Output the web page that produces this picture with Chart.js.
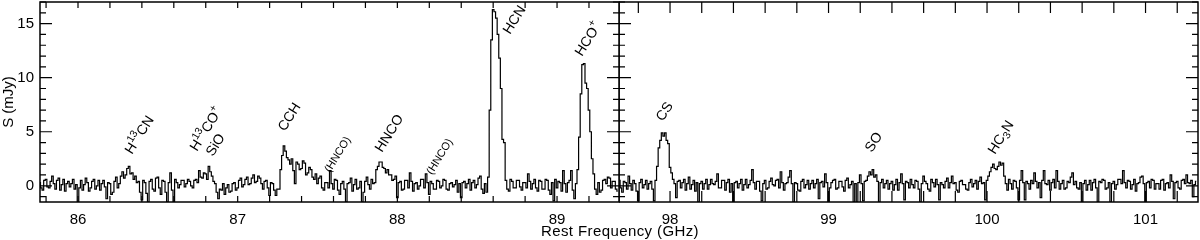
<!DOCTYPE html>
<html>
<head>
<meta charset="utf-8">
<script src="https://cdn.jsdelivr.net/npm/chart.js@4.4.1/dist/chart.umd.min.js"></script>
<style>
  body { margin: 0; background: #fff; }
  #wrap { position: relative; width: 1200px; height: 240px; }
  #left { position: absolute; left: 0; top: 0; }
  #right { position: absolute; left: 619px; top: 0; }
  #xtitle { position: absolute; left: 470px; width: 300px; top: 223px; text-align: center;
            font: 15px "Liberation Sans", Arial, sans-serif; letter-spacing: 0.4px; line-height: 16px; }
</style>
</head>
<body>
<div id="wrap">
  <canvas id="left" width="620" height="240"></canvas>
  <canvas id="right" width="581" height="240"></canvas>
  <div id="xtitle">Rest Frequency (GHz)</div>
</div>
<script>
// channel grid (GHz)
const chanWidth = 0.01;
const leftStart = 85.76;
const rightStart = 97.68;

// flux density per channel (mJy), one row = 0.1 GHz
const leftFlux = [
  0.3, -0.2, -0.4, 0.5, 0.6, -0.1, -0.2, 0.4, 0.9, 0.2,
  -0.3, 0.5, 0.7, -0.4, 0.1, 0.6, -0.5, 0.2, 0.4, -0.1,
  0.2, 0.6, -0.3, 0.1, -1.5, -0.2, 0.5, -0.4, 0.1, 0.7,
  0.3, -0.5, -0.2, 0.4, 0.6, -0.3, 0.0, 0.5, -0.4, 0.2,
  0.5, -0.1, -1.2, 0.3, 0.2, -0.8, -0.6, 0.4, 0.8, -0.2,
  0.2, 0.9, 1.3, 0.7, 1.0, 1.6, 1.8, 1.1, 1.2, 0.6,
  0.9, 0.3, 0.4, -0.6, -1.3, 0.5, 0.3, -0.7, -1.5, 0.4,
  0.6, -0.3, -0.5, 0.7, 0.8, -0.2, -0.8, 0.5, 0.4, -0.6,
  -1.5, 0.3, 1.2, -0.4, -1.5, 0.6, 0.3, -0.2, 0.1, 0.5,
  0.5, -0.1, 0.2, 0.6, 0.4, 0.0, -0.2, 0.5, 0.6, 0.3,
  1.4, 0.8, 0.7, 1.2, 1.1, 0.6, 1.8, 1.3, 0.9, 0.4,
  0.2, -0.6, -1.2, -0.3, -0.4, 0.2, -0.8, -0.2, 0.1, -0.6,
  -0.5, 0.2, 0.3, -0.4, -0.2, 0.5, 0.7, -0.1, 0.1, 0.6,
  0.8, 0.1, 0.2, 0.7, 1.0, 0.3, 0.4, 0.9, 0.7, 0.2,
  -0.3, 0.4, 0.5, -0.2, -0.9, 0.3, 0.2, -0.4, -0.9, -0.3,
  -0.3, 1.5, 2.8, 3.7, 3.2, 2.6, 2.4, 2.0, 2.5, 1.4,
  0.2, 2.2, 2.0, 1.5, 1.6, 2.3, 2.1, 1.0, 1.2, 1.7,
  1.5, 0.8, 0.6, 1.1, 0.2, 0.7, 0.9, -0.2, -0.4, 0.3,
  0.3, -0.2, 1.4, 0.2, -0.3, 0.6, 0.5, -0.4, -0.8, 0.2,
  0.4, -0.3, -1.5, 0.2, 0.3, 0.7, -0.5, 0.1, 0.6, -0.3,
  -0.2, 0.4, -1.5, -0.6, 0.4, 0.8, 0.1, -0.3, 0.6, 0.2,
  0.3, 1.5, 1.8, 2.2, 2.2, 1.7, 1.6, 1.2, 1.5, 1.0,
  1.0, 0.5, 0.6, 0.9, -1.1, 0.3, 0.4, -0.4, -0.3, 0.5,
  0.5, -0.2, 1.2, 0.4, -0.5, 0.2, 0.3, -0.3, 0.0, 0.6,
  0.6, -0.2, 1.1, 0.3, -0.8, 0.4, 0.2, -0.3, -0.3, 0.5,
  0.4, -0.2, 0.0, 0.6, 0.5, -0.3, -0.4, 0.2, 0.3, -0.1,
  0.1, 0.5, -0.6, 0.2, -1.1, 0.3, 0.4, -0.2, 0.2, 0.6,
  -0.4, 0.3, 0.5, -0.2, 0.1, 0.7, 0.9, -0.3, -0.7, 0.2,
  -0.6, 0.8, 7.0, 13.5, 16.3, 16.1, 15.5, 14.0, 11.8, 9.0,
  4.3, 4.0, 0.5, -0.3, -0.5, 0.6, 0.4, -0.2, -0.2, 0.5,
  0.5, -0.1, -0.4, 0.3, 0.3, -0.2, 1.1, 0.4, -0.3, 0.2,
  0.6, -0.2, -0.5, 0.5, 0.4, -0.3, -0.3, 0.6, 0.5, -0.4,
  -0.8, 0.3, -1.4, 0.6, -0.2, 0.4, 0.3, -0.5, 1.4, 0.2,
  -0.6, 0.3, 0.5, 1.4, -0.4, -1.2, 0.2, 1.5, 4.5, 8.5,
  11.2, 11.3, 9.5, 9.0, 7.0, 5.0, 2.5, 1.1, -0.3, -0.8,
  0.3, -0.6, -0.4, 0.5, 0.6, 0.2, 0.8, 0.7, -0.2, 0.4,
  0.4, -0.3, -0.5
];
const rightFlux = [
  0.5, -0.2, -0.6, 0.4, 0.3, -0.3, 0.9, 0.2, -0.4, 0.5,
  0.2, -0.5, -1.4, 0.3, 0.6, -0.2, 0.1, 0.5, -0.3, 0.2,
  0.4, -0.3, -1.4, 0.5, 1.8, 3.5, 4.2, 4.9, 4.6, 4.9,
  4.2, 3.9, 1.7, 1.2, 0.6, 0.2, -1.1, 0.4, 0.5, -0.2,
  0.3, 0.6, -0.4, 0.2, 0.8, -0.3, 0.1, 0.5, -0.5, 0.3,
  -1.5, 0.2, 0.4, -0.3, 0.2, 0.6, -0.3, 0.1, 0.6, 0.2,
  0.1, 0.4, 1.1, -0.2, -0.2, 0.5, 0.5, -0.4, 0.3, 0.6,
  -0.6, 0.2, -1.5, 0.3, 0.4, -0.2, 0.2, 0.6, -0.4, 0.1,
  0.6, -0.2, 0.1, 0.5, 1.5, 0.3, -0.3, 0.4, 0.4, -0.5,
  -1.4, 0.2, 0.5, -0.3, -0.2, 0.4, 0.7, 0.1, 0.0, 0.5,
  0.6, -0.2, 1.3, 0.3, -0.4, 0.2, 0.3, 0.8, 1.4, 0.2,
  -1.5, 0.3, 0.2, -0.4, -0.5, 0.4, 0.6, -0.2, 0.1, 0.5,
  -0.3, 0.2, 0.5, -0.2, 0.2, 0.6, -1.2, 0.3, 0.4, -0.1,
  1.1, 0.3, -1.5, -0.2, 0.3, 0.5, 0.6, -0.3, -0.2, 0.4,
  0.4, -0.1, -0.5, 0.5, 0.7, -0.2, 0.1, 0.4, -1.5, 0.2,
  -1.5, 0.3, 1.0, 0.2, -1.4, 0.4, 0.5, 0.9, 1.3, 1.0,
  1.5, 0.8, 1.0, 0.4, -1.5, 0.3, 0.6, -0.2, 0.2, 0.5,
  -0.3, 0.2, 0.4, -0.4, 0.1, 0.6, -0.4, 0.3, 1.1, 0.2,
  -1.3, 0.4, 0.3, -0.2, 0.6, 0.1, -0.2, 0.5, 0.4, -0.3,
  -1.5, 0.2, 0.9, 0.4, 0.2, -0.3, -0.5, 0.6, 0.3, -0.1,
  0.6, 0.1, -1.3, 0.3, 0.1, -0.2, 0.4, 0.7, -0.2, 0.3,
  0.9, 0.2, 0.3, -0.4, -0.6, 0.4, 0.5, 0.1, 0.1, -0.3,
  -0.4, 0.3, 0.6, -0.1, 0.2, 0.5, -0.3, 0.4, 0.8, 0.2,
  0.3, -1.3, 0.5, 0.9, 1.3, 1.7, 2.0, 1.6, 1.5, 1.8,
  2.2, 1.9, 2.1, 0.9, 0.2, -0.4, 0.6, 0.2, -0.3, 0.5,
  0.4, -0.2, -1.3, 0.5, 1.4, 0.3, -1.3, 0.4, 0.2, -0.3,
  0.5, 0.2, 1.2, 0.4, -0.2, 0.3, -1.1, 0.5, 1.4, 0.2,
  0.1, 0.5, -0.4, 0.3, 0.6, -0.2, 1.4, 0.4, -0.3, 0.2,
  0.5, -0.3, -0.2, 0.4, 0.3, 0.8, 1.2, 0.1, 0.4, -0.2,
  -0.3, 0.3, -1.5, 0.2, 0.5, -0.4, 0.1, 0.5, -0.4, 0.3,
  0.6, -0.2, -1.5, 0.4, 0.3, 0.6, 0.5, -0.3, -0.2, 0.3,
  -1.5, 0.2, 0.4, -0.3, 0.1, 0.6, 0.6, 0.2, 1.4, 0.3,
  -0.2, 0.5, 0.4, -0.3, 0.1, 0.6, -0.5, 0.2, 0.3, 0.8,
  0.9, 0.2, -1.5, 0.3, 0.4, -0.2, 0.6, 0.5, -0.3, 0.2,
  0.2, -0.3, 0.5, 0.6, -0.4, 0.2, 0.3, -0.2, 1.0, 0.4,
  -1.2, 0.3, 0.4, -0.2, -0.3, 0.5, 0.6, 0.2, 1.0, 0.3,
  0.2, 0.5, -1.0, 0.1, 0.4
];

// axis ranges and tick labels
const leftRange = [85.762, 89.388];
const rightRange = [97.678, 101.331];
const yRange = [-1.5, 17];
const leftTicks = [86, 87, 88, 89];
const rightTicks = [98, 99, 100, 101];
const yTicks = [0, 5, 10, 15];
const xMinorStep = 0.2;
const yMinorStep = 1;

// line identifications: text, frequency (GHz) and height (mJy) where the label starts
const leftLabels = [
  { text: 'H^{13}CN',     f: 86.338, s: 2.85 },
  { text: 'H^{13}CO^{+}', f: 86.745, s: 3.12 },
  { text: 'SiO',          f: 86.845, s: 2.66 },
  { text: 'CCH',          f: 87.296, s: 4.97 },
  { text: '(HNCO)',       f: 87.578, s: 1.18, small: true },
  { text: 'HNCO',         f: 87.904, s: 3.03 },
  { text: '(HNCO)',       f: 88.217, s: 0.98, small: true },
  { text: 'HCN',          f: 88.705, s: 13.95 },
  { text: 'HCO^{+}',      f: 89.156, s: 11.91 }
];
const rightLabels = [
  { text: 'CS',           f: 97.956, s: 5.9 },
  { text: 'SO',           f: 99.274, s: 3.03 },
  { text: 'HC_{3}N',      f: 100.05, s: 2.85 }
];

const FONT = '"Liberation Sans", Arial, sans-serif';
Chart.defaults.font.family = FONT;
Chart.defaults.color = '#000';

// text with ^{sup} and _{sub}
function drawRich(ctx, str, size) {
  const parts = str.split(/(\^\{[^}]*\}|_\{[^}]*\})/).filter(Boolean);
  let x = 0;
  parts.forEach(p => {
    let t = p, fs = size, dy = 0;
    if (p[0] === '^') { t = p.slice(2, -1); fs = size * 0.75; dy = -size * 0.45; }
    else if (p[0] === '_') { t = p.slice(2, -1); fs = size * 0.75; dy = size * 0.22; }
    ctx.font = fs + 'px ' + FONT;
    ctx.fillText(t, x, dy);
    x += ctx.measureText(t).width;
  });
}

// box + inward ticks on all four sides
const innerTicks = {
  id: 'innerTicks',
  afterDatasetsDraw(chart, args, opts) {
    const { ctx, chartArea: a, scales: { x, y } } = chart;
    ctx.save();
    ctx.strokeStyle = '#000';
    ctx.lineWidth = 1.5;
    ctx.strokeRect(a.left, a.top, a.right - a.left, a.bottom - a.top);
    ctx.lineWidth = 1.2;
    ctx.beginPath();
    for (let k = Math.ceil(x.min / xMinorStep); k * xMinorStep <= x.max; k++) {
      const px = x.getPixelForValue(k * xMinorStep);
      ctx.moveTo(px, a.bottom); ctx.lineTo(px, a.bottom - opts.xLen);
      ctx.moveTo(px, a.top); ctx.lineTo(px, a.top + opts.xLen);
    }
    for (let k = Math.ceil(y.min / yMinorStep); k * yMinorStep <= y.max; k++) {
      const v = k * yMinorStep;
      const len = yTicks.includes(v) ? 12 : 6;
      const py = y.getPixelForValue(v);
      ctx.moveTo(a.left, py); ctx.lineTo(a.left + len, py);
      ctx.moveTo(a.right, py); ctx.lineTo(a.right - len, py);
    }
    ctx.stroke();
    ctx.restore();
  }
};

const lineLabels = {
  id: 'lineLabels',
  afterDatasetsDraw(chart, args, opts) {
    const { ctx, scales: { x, y } } = chart;
    opts.items.forEach(l => {
      ctx.save();
      ctx.translate(x.getPixelForValue(l.f), y.getPixelForValue(l.s));
      ctx.rotate(-58 * Math.PI / 180);
      ctx.fillStyle = '#000';
      ctx.textBaseline = 'alphabetic';
      drawRich(ctx, l.text, l.small ? 11 : 14);
      ctx.restore();
    });
  }
};

function noPad(s) {
  s.paddingTop = 0; s.paddingBottom = 0; s.paddingLeft = 0; s.paddingRight = 0;
}

function makePanel(id, start, flux, range, ticks, labels, showY, xTickLen) {
  const points = flux.map((v, i) => ({ x: start + i * chanWidth, y: v }));
  return new Chart(document.getElementById(id), {
    type: 'line',
    data: { datasets: [{
      data: points,
      borderColor: '#000',
      borderWidth: 1.2,
      pointRadius: 0,
      stepped: 'middle',
      fill: false
    }]},
    options: {
      responsive: false,
      animation: false,
      events: [],
      layout: { padding: { top: 2, right: showY ? 1 : 2, left: 0, bottom: 0 } },
      plugins: {
        legend: { display: false },
        tooltip: { enabled: false },
        innerTicks: { xLen: xTickLen },
        lineLabels: { items: labels }
      },
      scales: {
        x: {
          type: 'linear', min: range[0], max: range[1],
          grid: { display: false, drawTicks: false },
          border: { display: false },
          afterBuildTicks: s => { s.ticks = ticks.map(v => ({ value: v })); },
          afterFit: s => { s.height = 38; noPad(s); },
          ticks: { padding: 9, font: { size: 15 }, maxRotation: 0, autoSkip: false }
        },
        y: {
          min: yRange[0], max: yRange[1],
          display: showY,
          grid: { display: false, drawTicks: false },
          border: { display: false },
          afterBuildTicks: s => { s.ticks = yTicks.map(v => ({ value: v })); },
          afterFit: s => { s.width = showY ? 40 : 0; noPad(s); },
          title: { display: showY, text: 'S (mJy)', font: { size: 15 }, padding: { top: 0, bottom: 0 } },
          ticks: { display: showY, padding: 6, font: { size: 15 } }
        }
      }
    },
    plugins: [innerTicks, lineLabels]
  });
}

makePanel('left', leftStart, leftFlux, leftRange, leftTicks, leftLabels, true, 6);
makePanel('right', rightStart, rightFlux, rightRange, rightTicks, rightLabels, false, 11);
</script>
</body>
</html>
